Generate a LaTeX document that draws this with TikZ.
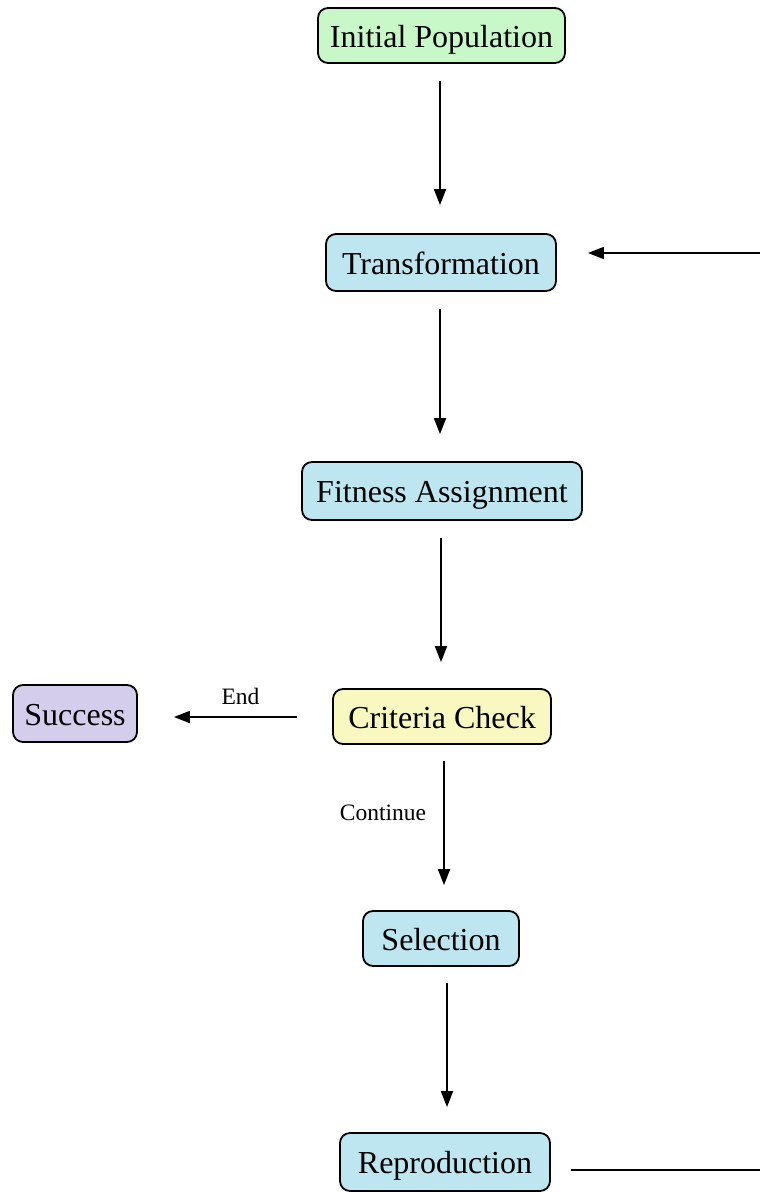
\documentclass[tikz,border=0pt]{standalone}
\usepackage{fontspec}
\setmainfont{Liberation Serif}
\usetikzlibrary{arrows.meta,calc}
\definecolor{cgreen}{RGB}{200,247,200}
\definecolor{cblue}{RGB}{190,230,240}
\definecolor{cyellow}{RGB}{248,248,192}
\definecolor{clav}{RGB}{212,206,236}
\begin{document}
\begin{tikzpicture}[x=1pt,y=-1pt,
  box/.style={draw=black, line width=1.8pt, rounded corners=10pt, font=\fontsize{32}{36}\selectfont, inner sep=0pt, text height=26pt, text depth=3pt, minimum height=56pt, anchor=center},
  conn/.style={line width=1.8pt, -{Triangle[length=16pt,width=12pt]}},
  plain/.style={line width=1.8pt},
  lbl/.style={font=\fontsize{23.5}{28}\selectfont, inner sep=0pt}]
\useasboundingbox (0,0) rectangle (760,1192);
\clip (0,0) rectangle (760,1192);
\node[box, fill=cgreen, minimum width=247pt, minimum height=55pt] (init) at (441.5,35.5) {Initial Population};
\node[box, fill=cblue, minimum width=230pt, minimum height=57pt] (trans) at (441,262.5) {Transformation};
\node[box, fill=cblue, minimum width=280pt, minimum height=58pt] (fit) at (442,491) {Fitness Assignment};
\node[box, fill=cyellow, minimum width=218pt, minimum height=55pt] (crit) at (442,716.5) {Criteria Check};
\node[box, fill=clav, minimum width=124pt, minimum height=57pt] (succ) at (75,713.5) {Success};
\node[box, fill=cblue, minimum width=156pt, minimum height=55pt] (sel) at (441,938.5) {Selection};
\node[box, fill=cblue, minimum width=210pt, minimum height=58pt] (repro) at (445,1162) {Reproduction};
\coordinate (loopA) at (800,1170);
\coordinate (loopB) at (800,253);
\draw[conn] ([shift={(-1.5,17)}]init.south) -- ([shift={(-1,-28)}]trans.north);
\draw[conn] ([shift={(-1,17)}]trans.south) -- ([shift={(-2,-27)}]fit.north);
\draw[conn] ([shift={(-1,17)}]fit.south) -- ([shift={(-1,-26)}]crit.north);
\draw[conn] ([shift={(2,16)}]crit.south) -- node[lbl, pos=0.42, left=17pt] {Continue} ([shift={(3,-25)}]sel.north);
\draw[conn] ([shift={(6,16)}]sel.south) -- ([shift={(2,-25)}]repro.north);
\draw[conn] ([shift={(-35,0.5)}]crit.west) -- node[lbl, above=11pt, xshift=5pt] {End} ([shift={(36,3.5)}]succ.east);
\draw[plain] ([shift={(20,8)}]repro.east) -- (loopA) -- (loopB);
\draw[conn] (loopB) -- ([shift={(31,-9.5)}]trans.east);
\end{tikzpicture}
\end{document}
